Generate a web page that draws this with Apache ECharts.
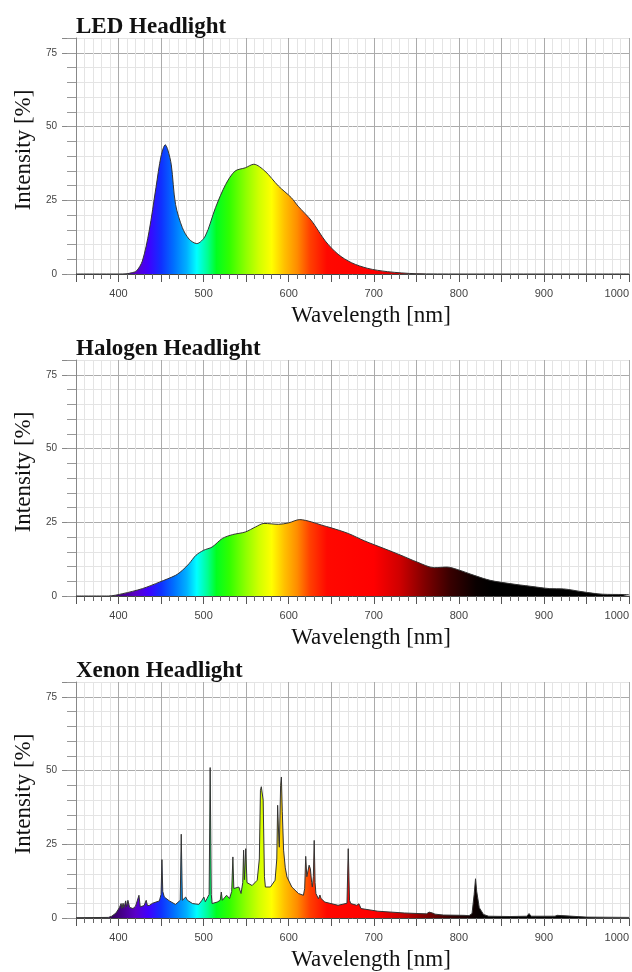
<!DOCTYPE html>
<html>
<head>
<meta charset="utf-8">
<script src="https://cdn.jsdelivr.net/npm/echarts@6/dist/echarts.min.js"></script>
<style>
  html, body { margin: 0; padding: 0; background: #fff; }
  #chart { width: 632px; height: 972px; }
</style>
</head>
<body>
<div id="chart"></div>
<script>
// panel titles
const titles = ['LED Headlight', 'Halogen Headlight', 'Xenon Headlight'];

// LED headlight spectrum
const ledNm  = [350, 400, 410, 415, 421, 428, 436, 444, 450, 455, 458, 462, 467, 475, 483, 492, 502, 514, 526, 537, 549, 559, 572, 588, 603, 611, 627, 643, 658, 674, 693, 716, 750, 800, 900, 1000];
const ledVal = [0, 0, 0.1, 0.4, 1, 4.4, 14.6, 29.3, 40, 43.8, 42, 37, 23.6, 15.7, 11.8, 10.3, 12.9, 22.5, 30.4, 34.9, 36, 37.2, 34.9, 29.8, 25.9, 23, 18, 11.2, 6.7, 3.8, 1.9, 0.8, 0.1, 0, 0, 0];

// halogen headlight spectrum
const halNm  = [350, 388, 405, 428, 448, 467, 475, 483, 491, 500, 510, 522, 534, 549, 561, 571, 588, 600, 613, 627, 639, 650, 670, 689, 712, 732, 751, 771, 786, 798, 818, 837, 860, 884, 907, 923, 946, 969, 993, 1000];
const halVal = [0, 0, 0.8, 2.5, 4.7, 7, 8.7, 11, 13.8, 15.5, 16.6, 19.5, 20.8, 21.7, 23.4, 24.6, 24.3, 24.8, 25.9, 25.1, 24.0, 23.1, 21.2, 18.7, 16.1, 13.8, 11.5, 9.6, 9.8, 9, 7, 5.3, 4.2, 3.3, 2.5, 2.4, 1.4, 0.6, 0.5, 0.4];

// xenon headlight spectrum (line spectrum)
const xenNm  = [350, 388, 392, 397, 401, 403, 404, 405.3, 406.5, 408.4, 409.5, 411, 413, 417, 420, 422, 424, 425.5, 427, 430, 432.5, 434, 436.4, 440, 444, 448, 450, 451, 452, 453.8, 459.7, 467, 472.5, 473.7, 475, 476, 479, 481, 483, 487, 494.4, 498, 500.3, 502, 504, 506.5, 507.7, 509, 510, 516, 519.5, 520.8, 522, 524, 527, 530.5, 533, 534.4, 535.5, 537.5, 541.4, 544, 546, 547, 548, 549.5, 551, 553, 557, 563, 565.5, 566.8, 567.8, 569, 570, 571.5, 572.6, 578.5, 584, 586, 587, 588.5, 589, 590.5, 591.4, 592.5, 594, 596, 598, 603.7, 611.5, 617.3, 618.8, 620, 621.3, 622.4, 624, 625.5, 627, 627.8, 629, 630, 631, 632, 635, 636.7, 638, 639.4, 642.5, 658, 668.5, 670, 671.5, 672.9, 680, 682.6, 685, 704.8, 736, 762, 765, 769, 772, 782, 806, 812, 815.5, 818, 819.6, 821, 824, 829, 835, 860, 880, 882.5, 885, 913, 915.7, 918, 950, 1000];
const xenVal = [0.1, 0.2, 0.6, 1.7, 3.5, 4.9, 3.2, 5, 3.5, 5.8, 3.8, 6, 3.6, 3.2, 4, 3.8, 7.7, 3.8, 3.7, 4.2, 6, 4.2, 4.3, 5, 5.4, 5.8, 8, 19.8, 9, 7.1, 5.8, 4.6, 6, 28.4, 6, 5.4, 7.1, 6, 6.6, 4.9, 4.6, 6, 7.1, 5.5, 6.6, 8, 51, 8, 4.9, 5.4, 6, 8.8, 6, 6.6, 7.7, 6.6, 9, 20.7, 10, 9.4, 10.5, 8.3, 12, 23, 13, 23.5, 12, 11.6, 11, 12.8, 20, 43.3, 44.5, 45, 40, 14, 10.5, 10.5, 12.8, 20, 38.2, 26, 24, 45, 47.8, 36, 23, 17, 13.9, 10.5, 8.3, 7.7, 10, 20.9, 14, 13.9, 17.9, 16.7, 12, 10.5, 14, 26.3, 12, 8.3, 6.5, 7.8, 6.6, 7.1, 5.4, 4.3, 5, 23.5, 6, 4.9, 4.3, 4.8, 3.2, 2.3, 1.7, 1.4, 2, 1.7, 1.3, 1, 0.9, 0.8, 1.5, 8, 13.3, 9, 3.5, 1.2, 0.6, 0.5, 0.6, 1.5, 0.6, 0.6, 0.9, 0.5, 0.3, 0.2];

// axis ranges
const xMin = 350, xMax = 1000;
const yMin = 0, yMax = 80;

// visible spectrum colours used for the fill
const specNm    = [380, 400, 420, 435, 450, 465, 480, 492, 505, 515, 530, 550, 565, 580, 595, 610, 625, 645, 700, 730, 760, 790, 820, 840];
const specColor = ['#200030', '#40007a', '#5a00c8', '#4000ff', '#1030ff', '#0070ff', '#00b0ff', '#00ffff', '#00ff90', '#00ff20', '#30ff00', '#90ff00', '#d0ff00', '#ffff00', '#ffc000', '#ff8c00', '#ff4000', '#ff0800', '#ff0000', '#d00000', '#800000', '#380000', '#0a0000', '#000000'];

const spectrum = specNm.map((nm, k) => ({ offset: (nm - xMin) / (xMax - xMin), color: specColor[k] }));

const panels = [
  [ledNm, ledVal, 0.3],
  [halNm, halVal, 0.3],
  [xenNm, xenVal, false]
];
const tops = [38, 360, 682];

const serif = 'Liberation Serif';
const sans = 'Liberation Sans';
const major = '#ababab', minor = '#e4e4e4';

const option = {
  backgroundColor: '#fff',
  animation: false,
  title: titles.map((t, i) => ({
    text: t, left: 76, top: tops[i] - 22, padding: 0,
    textStyle: { fontFamily: serif, fontWeight: 'bold', fontSize: 23, color: '#111' }
  })),
  grid: tops.map(t => ({ left: 76, top: t, right: 0, height: 236 })),
  xAxis: tops.map((t, i) => ({
    gridIndex: i, type: 'value', min: xMin, max: xMax, interval: 50,
    name: 'Wavelength [nm]', nameLocation: 'middle', nameGap: 30,
    nameTextStyle: { fontFamily: serif, fontSize: 23, color: '#111', padding: [0, 0, 0, 37] },
    axisLine: { lineStyle: { color: '#444' } },
    axisTick: { length: 8, lineStyle: { color: '#555' } },
    minorTick: { show: true, splitNumber: 5, length: 5, lineStyle: { color: '#666' } },
    axisLabel: { formatter: v => (v % 100 === 0 ? String(v) : ''), margin: 14, fontSize: 11, color: '#444', fontFamily: sans, alignMaxLabel: 'right' },
    splitLine: { show: true, lineStyle: { color: major } },
    minorSplitLine: { show: true, lineStyle: { color: minor } }
  })),
  yAxis: [],
  series: []
};

tops.forEach((t, i) => {
  option.yAxis.push({
    gridIndex: i, type: 'value', position: 'left', min: yMin, max: yMax, interval: 25,
    name: 'Intensity [%]', nameLocation: 'middle', nameGap: 32,
    nameTextStyle: { fontFamily: serif, fontSize: 23, color: '#111', padding: [0, 0, 0, 12] },
    axisLine: { show: true, lineStyle: { color: '#888' } },
    axisTick: { show: true, length: 14, lineStyle: { color: '#888' } },
    axisLabel: { formatter: v => (v === yMax ? '' : String(v)), margin: 19, fontSize: 10, color: '#444', fontFamily: sans },
    splitLine: { show: false }
  });
  option.yAxis.push({
    gridIndex: i, type: 'value', position: 'left', min: yMin, max: yMax, interval: 5,
    axisLine: { show: false },
    axisTick: { show: true, length: 9, lineStyle: { color: '#999' } },
    axisLabel: { show: false },
    splitLine: { show: true, lineStyle: { color: [major, minor, minor, minor, minor] } }
  });
  const [nm, val, smooth] = panels[i];
  option.series.push({
    type: 'line', xAxisIndex: i, yAxisIndex: 2 * i,
    data: nm.map((x, k) => [x, val[k]]),
    smooth: smooth, showSymbol: false, symbol: 'none',
    lineStyle: { color: '#333', width: 1 },
    areaStyle: { color: new echarts.graphic.LinearGradient(0, 0, 1, 0, spectrum), opacity: 1 }
  });
});

const chart = echarts.init(document.getElementById('chart'));
chart.setOption(option);
</script>
</body>
</html>
